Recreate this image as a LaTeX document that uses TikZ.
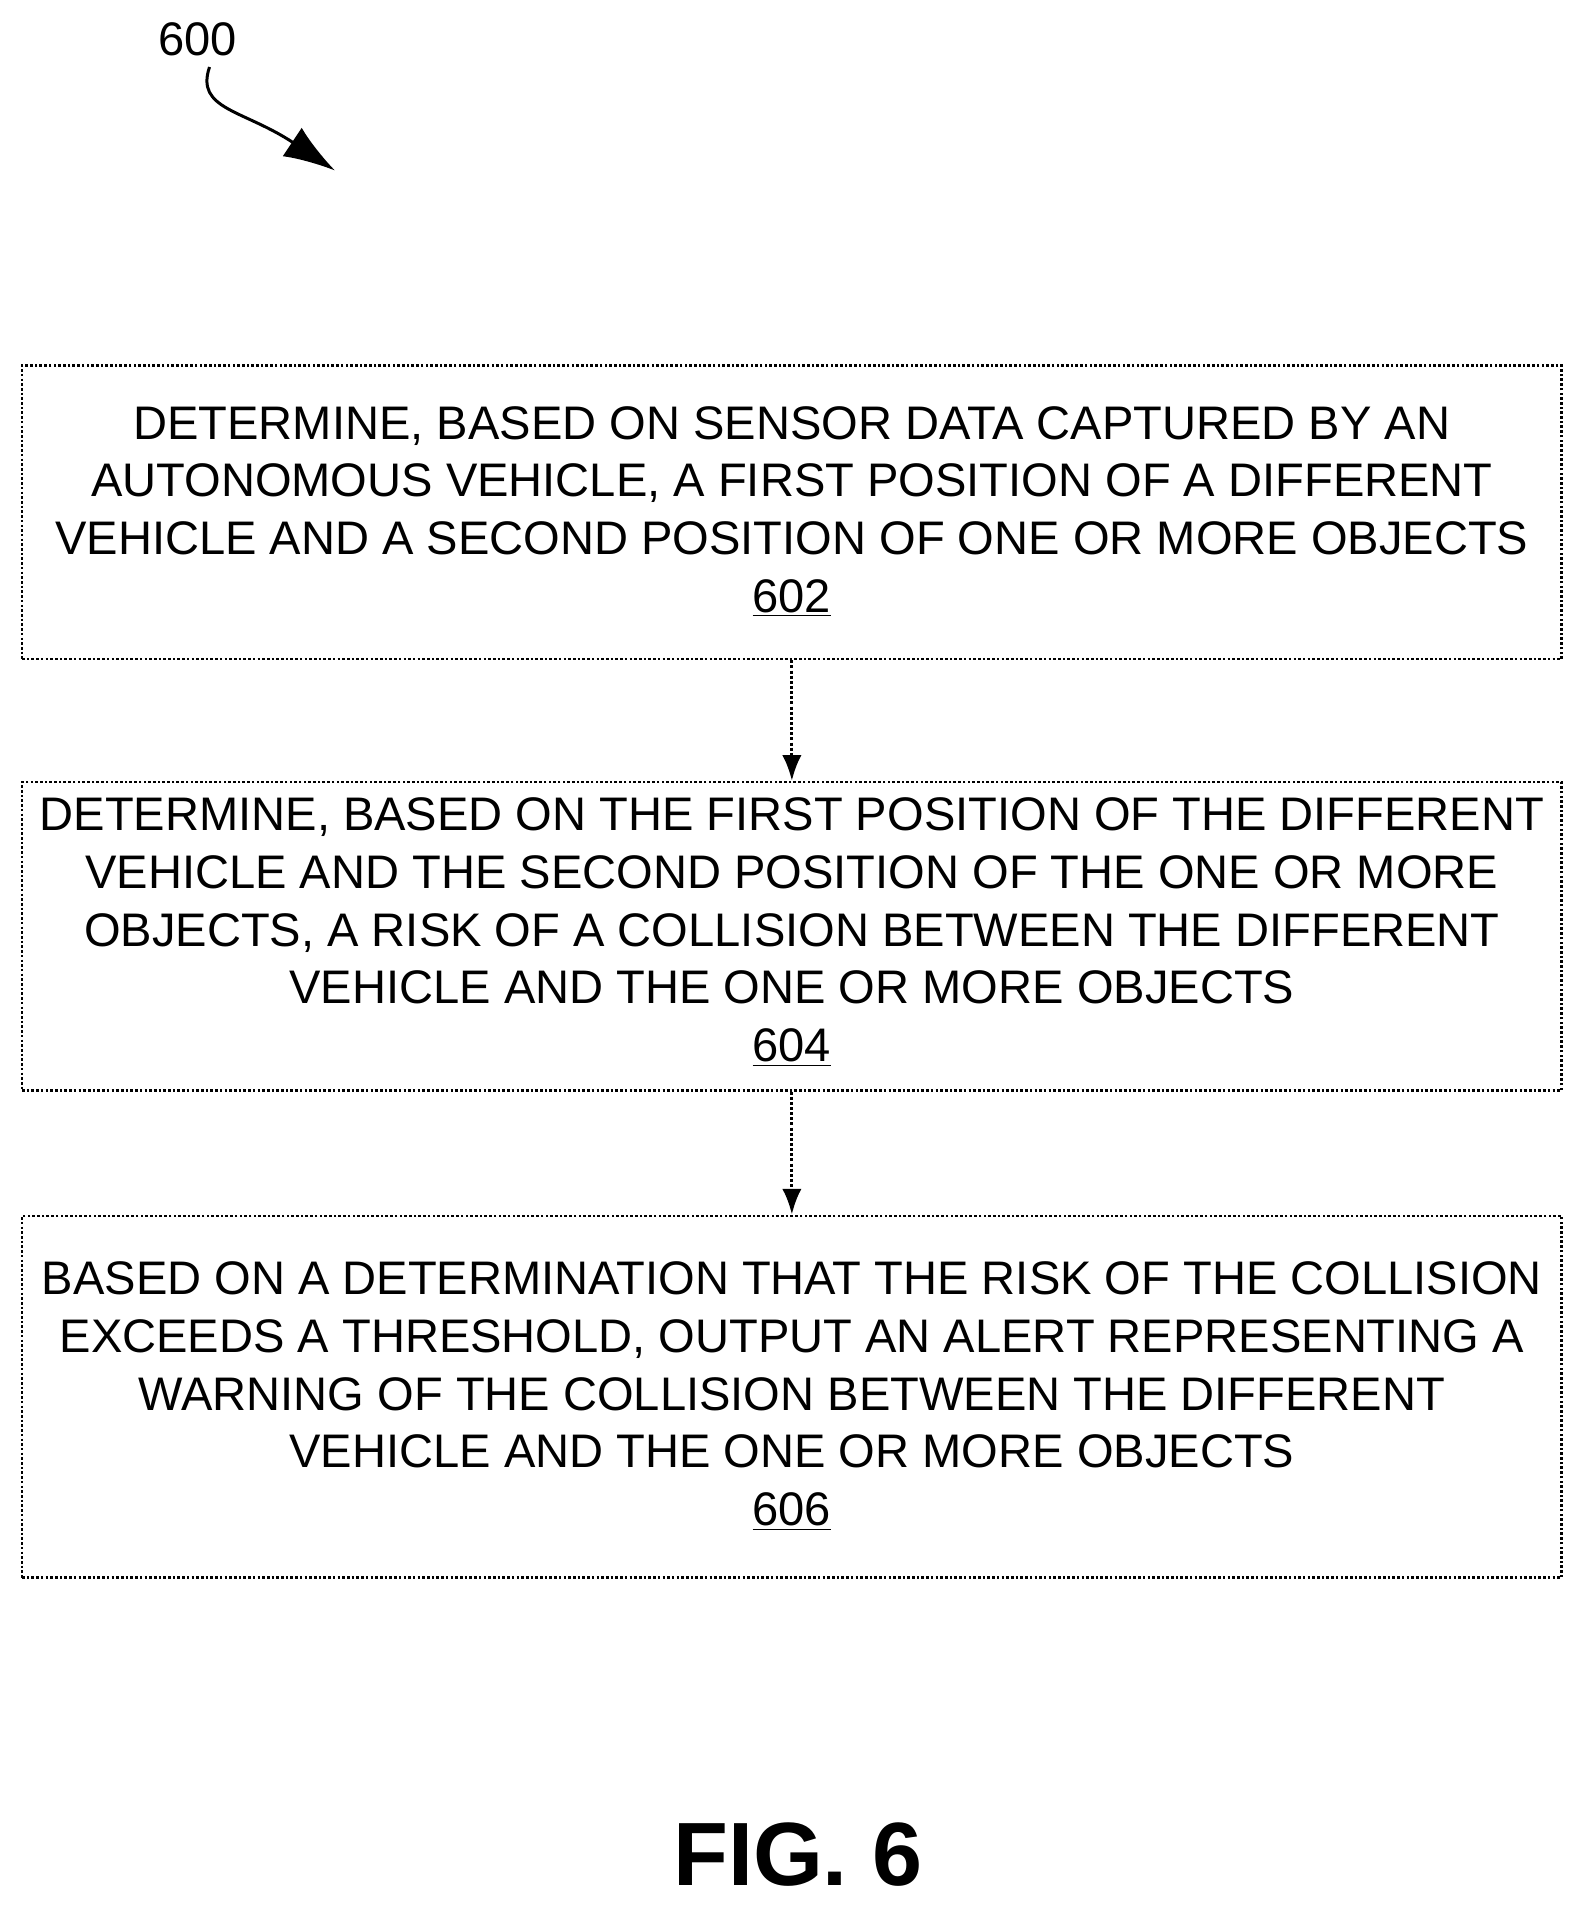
\documentclass[tikz,border=0pt]{standalone}
\usetikzlibrary{arrows.meta}
\usepackage{fontspec}
\setmainfont{Liberation Sans}
\begin{document}
\begin{tikzpicture}[x=0.02cm,y=-0.02cm,
  box/.style={draw,line width=1.2pt,densely dotted,minimum width=25.28cm,inner sep=0pt},
  txt/.style={align=center,font=\fontsize{22}{27}\selectfont},
  arr/.style={-{Latex[length=12pt,width=9pt]},line width=1.4pt,densely dotted}]
\useasboundingbox (0,0) rectangle (1300,1567);
\node[box,minimum height=4.82cm] (b1) at (650,420.5) {};
\node[box,minimum height=5.06cm] (b2) at (650,768.5) {};
\node[box,minimum height=5.94cm] (b3) at (650,1146.5) {};
\node[txt] at (650,420) {DETERMINE, BASED ON SENSOR DATA CAPTURED BY AN\\AUTONOMOUS VEHICLE, A FIRST POSITION OF A DIFFERENT\\VEHICLE AND A SECOND POSITION OF ONE OR MORE OBJECTS\\\underline{602}};
\node[txt] at (650,765) {DETERMINE, BASED ON THE FIRST POSITION OF THE DIFFERENT\\VEHICLE AND THE SECOND POSITION OF THE ONE OR MORE\\OBJECTS, A RISK OF A COLLISION BETWEEN THE DIFFERENT\\VEHICLE AND THE ONE OR MORE OBJECTS\\\underline{604}};
\node[txt] at (650,1146) {BASED ON A DETERMINATION THAT THE RISK OF THE COLLISION\\EXCEEDS A THRESHOLD, OUTPUT AN ALERT REPRESENTING A\\WARNING OF THE COLLISION BETWEEN THE DIFFERENT\\VEHICLE AND THE ONE OR MORE OBJECTS\\\underline{606}};
\draw[arr] (b1.south) -- (b2.north);
\draw[arr] (b2.south) -- (b3.north);
\node[txt] (l600) at (162,32) {600};
\coordinate (t600) at (275,140);
\draw[line width=1.4pt,-{Latex[length=24pt,width=16pt]}] (172,55) .. controls (160,90) and (200,90) .. (t600);
\node[font=\bfseries\fontsize{42}{46}\selectfont] (fig) at (655,1522) {FIG. 6};
\end{tikzpicture}
\end{document}
